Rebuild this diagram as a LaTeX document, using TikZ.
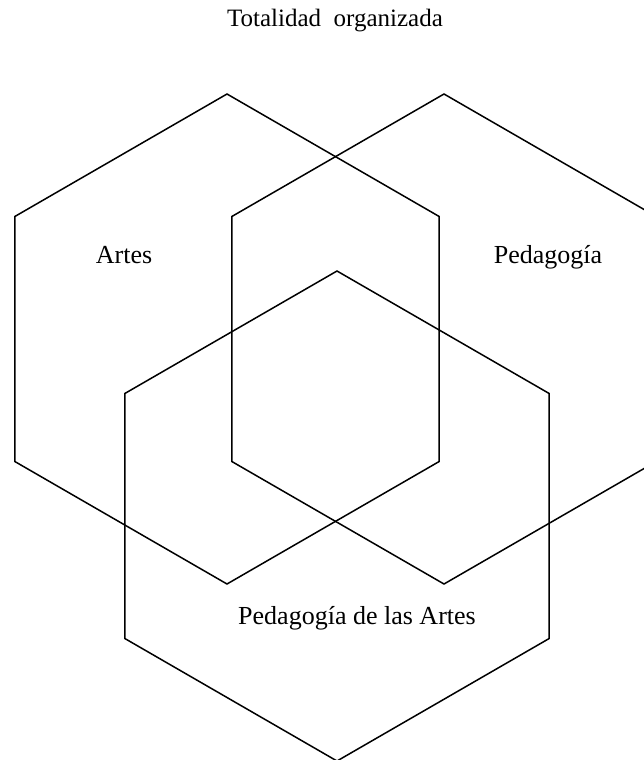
\documentclass[tikz,border=0pt]{standalone}
\usepackage{fontspec}
\setmainfont{Liberation Serif}
\usetikzlibrary{positioning,shapes.geometric}

\begin{document}
\begin{tikzpicture}[
    x=1pt, y=-1pt,
    hexa/.style={regular polygon, regular polygon sides=6, shape border rotate=30,
        minimum size=490pt, inner sep=0pt, outer sep=0pt, draw=black, line width=1.5pt},
    setname/.style={font=\fontsize{26}{30}\selectfont, anchor=base, inner sep=0pt},
    heading/.style={font=\fontsize{25}{30}\selectfont, anchor=base, inner sep=0pt}
]
\useasboundingbox (0,0) rectangle (644,760);
\clip (0,0) rectangle (644,760);

% Three overlapping sets
\node[hexa] (artes) at (227,339) {};
\node[hexa] (pedagogia) at (444,339) {};
\node[hexa] (pedartes) at (337,516) {};

% Labels
\node[heading] (total) at (335,27) {Totalidad\ \ organizada};
\node[setname] (lbartes) at (124,263) {Artes};
\node[setname] (lbped) at (548,263) {Pedagogía};
\node[setname] (lbpedartes) at (357,624) {Pedagogía de las Artes};

\end{tikzpicture}
\end{document}
